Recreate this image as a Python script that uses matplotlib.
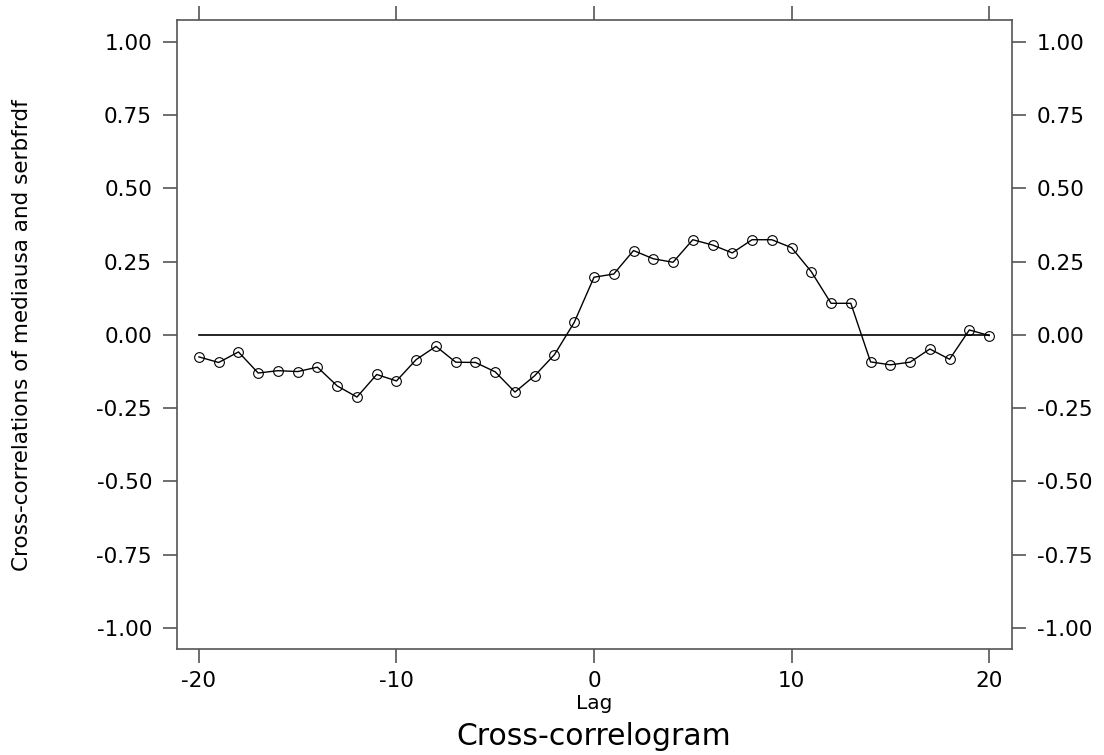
import numpy as np
import matplotlib
matplotlib.use('Agg')
import matplotlib.pyplot as plt

lags = list(range(-20, 21))
xcorr = [-0.075, -0.094, -0.058, -0.130, -0.122, -0.125, -0.110, -0.174, -0.212, -0.135,
         -0.157, -0.084, -0.039, -0.093, -0.094, -0.126, -0.195, -0.139, -0.067, 0.043,
         0.197, 0.208, 0.288, 0.260, 0.248, 0.325, 0.307, 0.280, 0.325, 0.325,
         0.298, 0.216, 0.108, 0.108, -0.092, -0.102, -0.093, -0.048, -0.083, 0.017,
         -0.002]
xticks = [-20, -10, 0, 10, 20]
yticks = [-1.0, -0.75, -0.5, -0.25, 0.0, 0.25, 0.5, 0.75, 1.0]

plt.rcParams['font.family'] = 'DejaVu Sans'
fig = plt.figure(figsize=(11.04, 7.55), dpi=100)
ax = fig.add_axes([177 / 1104, 1 - 649 / 755, (1012 - 177) / 1104, (649 - 20) / 755])

ax.plot([lags[0], lags[-1]], [0, 0], color='black', lw=1.2)
ax.plot(lags, xcorr, color='black', lw=1.0, marker='o', markersize=7,
        markerfacecolor='none', markeredgecolor='black', markeredgewidth=0.8)

ax.set_xlim(-21.11, 21.16)
ax.set_ylim(-1.072, 1.075)
ax.set_xticks(xticks)
ax.set_xticklabels([str(t) for t in xticks])
ax.set_yticks(yticks)
ax.set_yticklabels(['%.2f' % t for t in yticks])

for s in ax.spines.values():
    s.set_color('#555555')
    s.set_linewidth(1.2)
ax.tick_params(axis='both', direction='out', length=10, width=1.2, color='#555555',
               labelsize=15.5, pad=6)
ax.tick_params(axis='x', top=True, labeltop=False)
ax.tick_params(axis='y', right=True, labelright=True, pad=8)

fig.text(594 / 1104, 1 - 709 / 755, 'Lag', ha='center', va='baseline', fontsize=14.5)
fig.text(594 / 1104, 1 - 745 / 755, 'Cross-correlogram', ha='center', va='baseline',
         fontsize=21.5)
fig.text(22 / 1104, 1 - 335 / 755, 'Cross-correlations of mediausa and serbfrdf',
         rotation=90, ha='center', va='center', fontsize=15.5)

fig.savefig('out.png', dpi=100)
